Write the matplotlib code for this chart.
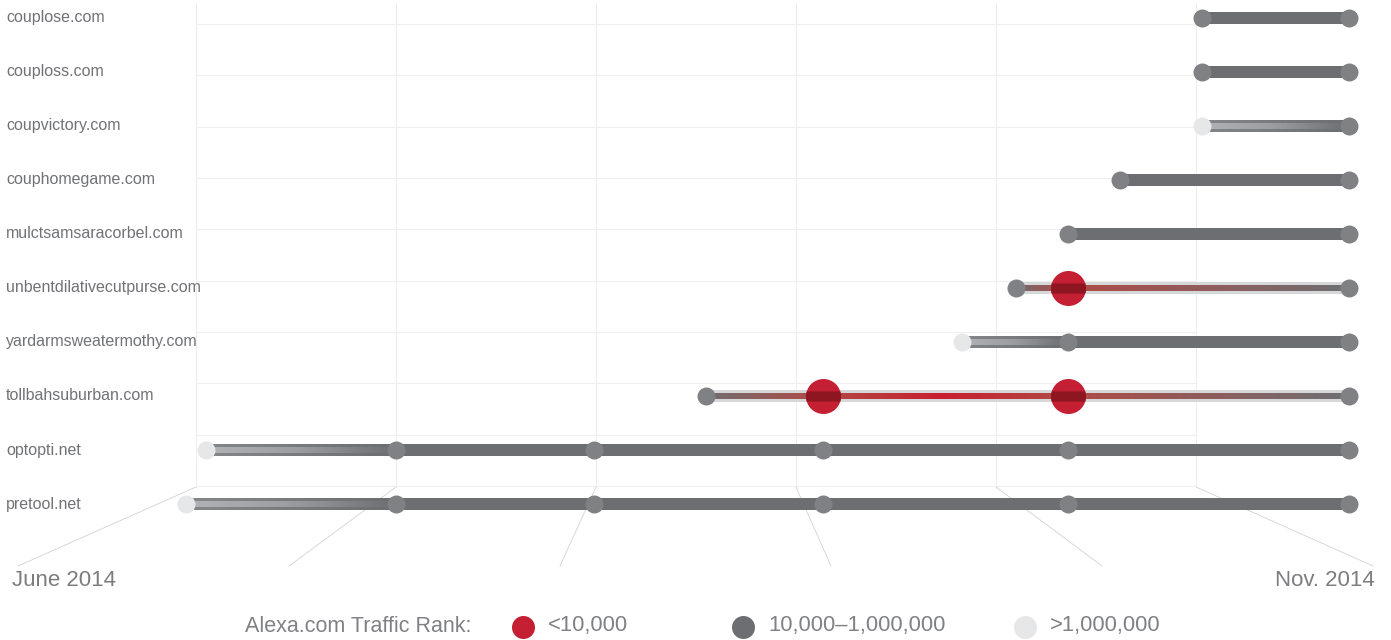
import numpy as np
import matplotlib
matplotlib.use('Agg')
import matplotlib.pyplot as plt
from matplotlib.collections import LineCollection
from matplotlib.colors import to_rgb
from matplotlib.path import Path

plt.rcParams['font.family'] = ['Liberation Sans', 'DejaVu Sans']

# domains, top to bottom
sites = ['couplose.com', 'couploss.com', 'coupvictory.com', 'couphomegame.com',
         'mulctsamsaracorbel.com', 'unbentdilativecutpurse.com',
         'yardarmsweatermothy.com', 'tollbahsuburban.com', 'optopti.net', 'pretool.net']

# months after June 2014 at which each domain was checked
seen_at = [
    [5.03, 5.765],
    [5.03, 5.765],
    [5.03, 5.765],
    [4.62, 5.765],
    [4.36, 5.765],
    [4.10, 4.36, 5.765],
    [3.83, 4.36, 5.765],
    [2.55, 3.135, 4.36, 5.765],
    [0.05, 1.0, 1.99, 3.135, 4.36, 5.765],
    [-0.05, 1.0, 1.99, 3.135, 4.36, 5.765],
]
# Alexa rank bucket at each check: top <10k, mid 10k-1M, low >1M
rank = [
    ['mid', 'mid'],
    ['mid', 'mid'],
    ['low', 'mid'],
    ['mid', 'mid'],
    ['mid', 'mid'],
    ['mid', 'top', 'mid'],
    ['low', 'mid', 'mid'],
    ['mid', 'top', 'top', 'mid'],
    ['low', 'mid', 'mid', 'mid', 'mid', 'mid'],
    ['low', 'mid', 'mid', 'mid', 'mid', 'mid'],
]
legend_title = 'Alexa.com Traffic Rank:'
legend_keys = ['top', 'mid', 'low']
legend_labels = ['<10,000', '10,000–1,000,000', '>1,000,000']
date_labels = ['June 2014', 'Nov. 2014']

# colours
dot_col = {'top': '#c51f33', 'mid': '#808184', 'low': '#e6e7e8'}
dot_px = {'top': 35, 'mid': 18, 'low': 18}
outer_col = {'top': '#d6d7d9', 'mid': '#6d6e71', 'low': '#86878a'}
inner_col = {'top': '#b04a45', 'mid': '#6d6e71', 'low': '#b2b3b6'}
red_mid = '#c91d30'
halo = '#d6d7d9'
line_gray = '#6d6e71'
txt_gray = '#717275'

PX = 0.72  # pixel -> point at 100 dpi


def grad_line(ax, x0, x1, y, stops, lw, z):
    n = 90
    xs = np.linspace(x0, x1, n + 1)
    pts = np.column_stack([xs, np.full_like(xs, y)])
    segs = np.stack([pts[:-1], pts[1:]], axis=1)
    t = (np.arange(n) + 0.5) / n
    st = np.linspace(0, 1, len(stops))
    rgb = np.array([to_rgb(c) for c in stops])
    cols = np.column_stack([np.interp(t, st, rgb[:, k]) for k in range(3)])
    ax.add_collection(LineCollection(segs, colors=cols, linewidths=lw * PX,
                                     capstyle='projecting', zorder=z))


fig = plt.figure(figsize=(13.91, 6.4), dpi=100)

# background: the "floor" grid, dates and legend, in pixel units
bg = fig.add_axes([0, 0, 1, 1])
bg.set_xlim(0, 1391)
bg.set_ylim(640, 0)
bg.axis('off')

for k in range(6):
    xv = 196 + 200 * k
    bg.plot([xv, xv], [4, 487], color='#eeeeee', lw=0.8, zorder=1)
    bg.plot([xv, 18 + 271 * k], [487, 566], color='#d2d2d2', lw=0.6, zorder=1)
for k in range(10):
    yh = 24 + 51.33 * k
    bg.plot([196, 1196], [yh, yh], color='#efefef', lw=0.8, zorder=1)

bg.text(12, 581, date_labels[0], ha='left', va='center', fontsize=16, color='#7d7d80')
bg.text(1375, 581, date_labels[1], ha='right', va='center', fontsize=16, color='#7d7d80')

bg.text(245, 626, legend_title, ha='left', va='center', fontsize=15.5, color='#808184')
leg_dot = {'top': '#c51f33', 'mid': '#6d6e71', 'low': '#e6e7e8'}
for key, lab, xd in zip(legend_keys, legend_labels, [523, 743, 1025]):
    bg.scatter([xd], [627], s=(23 * PX) ** 2, color=leg_dot[key], linewidths=0, zorder=3)
    bg.text(xd + 25, 626, lab, ha='left', va='center', fontsize=15.8, color='#808184')

# data axes: x in months after June 2014, y in row index
ax = fig.add_axes([0, 0, 1, 1])
ax.set_xlim(-0.98, 5.975)
ax.set_ylim(11.5185, -0.3333)
ax.axis('off')

# dark band where the line runs over a big red dot
a = np.arcsin(0.29)
th = np.concatenate([np.linspace(-a, a, 16), np.linspace(np.pi - a, np.pi + a, 16)])
vv = np.column_stack([np.cos(th), np.sin(th)])
band = Path(np.vstack([vv, vv[:1]]), closed=True)

for i, site in enumerate(sites):
    xs = seen_at[i]
    rs = rank[i]
    ax.text(-0.95, i, site, ha='left', va='center', fontsize=11.5, color=txt_gray)
    for j in range(len(xs) - 1):
        r0, r1 = rs[j], rs[j + 1]
        if 'top' in (r0, r1):
            grad_line(ax, xs[j], xs[j + 1], i, [halo, halo], 12, 2)
            stops = [inner_col[r0], inner_col[r1]]
            if r0 == r1 == 'top':
                stops = [inner_col[r0], red_mid, inner_col[r1]]
            grad_line(ax, xs[j], xs[j + 1], i, stops, 6, 3)
        elif 'low' in (r0, r1):
            grad_line(ax, xs[j], xs[j + 1], i, [outer_col[r0], outer_col[r1]], 12, 2)
            grad_line(ax, xs[j], xs[j + 1], i, [inner_col[r0], '#9c9da0', inner_col[r1]], 6, 3)
        else:
            ax.plot([xs[j], xs[j + 1]], [i, i], color=line_gray, lw=12 * PX,
                    solid_capstyle='butt', zorder=2)
    for x, r in zip(xs, rs):
        ax.scatter([x], [i], s=(dot_px[r] * PX) ** 2, color=dot_col[r], linewidths=0, zorder=4)
        if r == 'top':
            ax.scatter([x], [i], s=(dot_px[r] * PX) ** 2, marker=band, color='#8e1620',
                       linewidths=0, zorder=5)

fig.savefig('out.png', dpi=100)
